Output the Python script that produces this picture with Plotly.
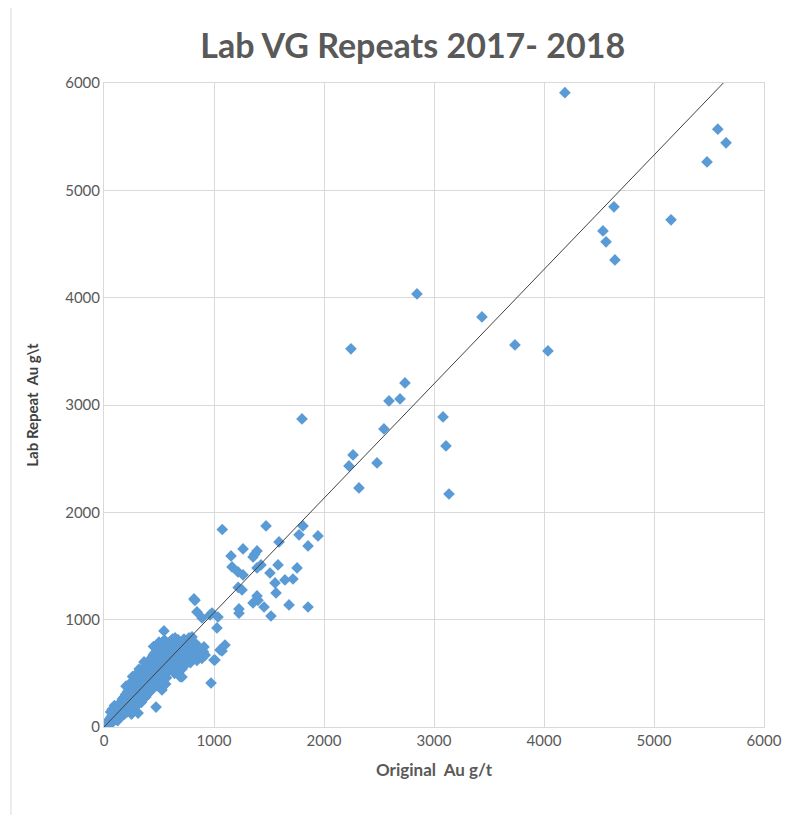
import plotly.graph_objects as go

# dense low-grade cluster (Original Au g/t, Lab Repeat Au g/t)
low_x = [3, 8, 12, 18, 20, 25, 28, 33, 37, 41, 46, 50, 55, 58, 63, 66, 70, 74, 78, 83, 86, 90, 95, 98, 103,
         107, 112, 115, 120, 124, 128, 132, 137, 141, 146, 150, 60, 75, 95, 110, 130, 150]
low_y = [2, 15, 4, 30, 12, 45, 20, 8, 55, 35, 22, 70, 48, 30, 90, 60, 40, 110, 75, 52, 130, 95, 68, 150, 115,
         82, 175, 135, 100, 60, 195, 155, 118, 210, 170, 130, 140, 165, 200, 90, 75, 95]

mid_low_x = [155, 158, 163, 167, 171, 175, 180, 184, 188, 193, 197, 202, 206, 210, 215, 219, 224, 228, 233,
             237, 242, 246, 251, 255, 260, 264, 269, 273, 278, 282, 287, 291, 296, 300, 305, 309, 314, 318,
             323, 327, 332, 336, 341, 345, 350, 200, 230, 260, 290, 310, 340, 280, 250, 320]
mid_low_y = [235, 185, 145, 260, 205, 160, 115, 280, 225, 175, 305, 245, 195, 140, 330, 265, 210, 355, 285,
             230, 175, 380, 305, 250, 400, 325, 270, 200, 420, 345, 290, 440, 365, 310, 240, 460, 385, 330,
             480, 405, 350, 275, 500, 425, 370, 380, 400, 470, 190, 130, 230, 480, 120, 540]

mid_x = [355, 358, 362, 367, 371, 375, 379, 384, 388, 393, 397, 402, 406, 411, 415, 420, 424, 429, 433, 438,
         442, 447, 451, 456, 460, 465, 469, 474, 478, 483, 487, 492, 496, 501, 505, 510, 514, 519, 523, 528,
         532, 537, 541, 546, 550, 555, 559, 564, 568, 573, 577, 582, 586, 591, 595, 600, 380, 420, 470, 520,
         560, 450, 500, 540]
mid_y = [520, 445, 390, 310, 545, 465, 410, 570, 490, 430, 350, 595, 510, 450, 620, 535, 470, 380, 645, 555,
         490, 670, 580, 515, 420, 695, 600, 540, 720, 625, 560, 455, 745, 650, 585, 490, 770, 670, 605, 530,
         790, 695, 630, 560, 810, 720, 650, 580, 460, 745, 675, 600, 520, 770, 700, 625, 280, 330, 380, 420,
         400, 750, 790, 760]

upper_x = [605, 610, 614, 619, 623, 628, 632, 637, 641, 646, 650, 655, 659, 664, 668, 673, 677, 682, 686,
           691, 695, 700, 705, 709, 714, 718, 723, 727, 732, 736, 741, 745, 750, 755, 759, 764, 768, 773,
           777, 782, 786, 791, 800, 810, 820, 830, 845, 860, 870, 890, 905, 920]
upper_y = [800, 720, 650, 560, 820, 745, 670, 590, 500, 830, 765, 690, 610, 520, 800, 810, 720, 640, 560,
           470, 780, 700, 620, 540, 760, 680, 600, 820, 740, 660, 580, 800, 720, 640, 780, 700, 620, 830,
           760, 680, 600, 810, 735, 660, 790, 700, 620, 750, 680, 640, 700, 670]

# scattered points between ~350 and 1100
spread_x = [545, 364, 473, 709, 527, 818, 827, 845, 891, 964, 1036, 1027, 1100, 1073, 909, 891, 1000, 973,
            800, 673, 1055, 1009]
spread_y = [895, 606, 186, 466, 345, 1193, 1180, 1072, 1016, 1044, 1025, 923, 764, 708, 746, 690, 624, 410,
            839, 811, 718, 624]

# 1000-2000 group
group_x = [1075, 1473, 1809, 1773, 1945, 1855, 1591, 1264, 1391, 1155, 1355, 1370, 1427, 1164, 1218, 1264,
           1391, 1582, 1509, 1755, 1555, 1645, 1718, 1564, 1255, 1220, 1391, 1355, 1400, 1455, 1682, 1855,
           1518, 1227, 1227, 982]
group_y = [1840, 1873, 1873, 1790, 1780, 1687, 1724, 1659, 1640, 1594, 1584, 1610, 1510, 1491, 1445, 1417,
           1482, 1510, 1435, 1482, 1342, 1370, 1379, 1249, 1277, 1300, 1221, 1156, 1180, 1118, 1137, 1118,
           1034, 1100, 1060, 1062]

# high-grade samples
high_x = [4190, 5580, 5655, 5482, 5155, 4636, 4536, 4564, 4645, 2845, 3436, 3736, 4036, 2245, 2736, 2691,
          2591, 3082, 1800, 2545, 3109, 2264, 2227, 2482, 2318, 3136]
high_y = [5910, 5570, 5443, 5265, 4725, 4846, 4622, 4520, 4352, 4035, 3821, 3560, 3504, 3523, 3206, 3057,
          3038, 2889, 2870, 2777, 2619, 2535, 2432, 2460, 2227, 2171]

# reference line as drawn in the chart
line_x = [0, 5630]
line_y = [0, 6000]

orig_au = low_x + mid_low_x + mid_x + upper_x + spread_x + group_x + high_x
repeat_au = low_y + mid_low_y + mid_y + upper_y + spread_y + group_y + high_y

grey = "#595959"

fig = go.Figure()
fig.add_trace(go.Scatter(
    x=orig_au, y=repeat_au, mode="markers",
    marker=dict(symbol="diamond", size=9, color="#5B9BD5", line=dict(width=0)),
    showlegend=False,
))
fig.add_trace(go.Scatter(
    x=line_x, y=line_y, mode="lines",
    line=dict(color="#404040", width=1),
    showlegend=False,
))

# page body has an 8px margin, so the figure sits at (8, 8)
fig.update_layout(
    width=803, height=815,
    paper_bgcolor="white", plot_bgcolor="white",
    margin=dict(l=96, r=47, t=75, b=96),
    font=dict(family="Lato, Open Sans, sans-serif", color=grey, size=15),
    title=dict(text="<b>Lab VG Repeats 2017- 2018</b>", x=0.504, xanchor="center", xref="container",
               y=0.953, yanchor="middle",
               font=dict(size=34, color=grey, family="Lato, sans-serif")),
    shapes=[
        dict(type="line", xref="paper", yref="paper", x0=-0.141, x1=-0.141, y0=-0.16, y1=1.118,
             line=dict(color="#D9D9D9", width=1)),
        dict(type="line", xref="paper", yref="paper", x0=-0.141, x1=1.08, y0=1.118, y1=1.118,
             line=dict(color="#D9D9D9", width=1)),
    ],
)
fig.update_xaxes(
    range=[0, 6000], tickvals=[0, 1000, 2000, 3000, 4000, 5000, 6000],
    showgrid=True, gridcolor="#D9D9D9", gridwidth=1, zeroline=False,
    showline=True, linecolor="#D9D9D9", mirror=True, ticks="",
    tickfont=dict(size=15, color=grey),
    title=dict(text="<b>Original  Au g/t</b>", font=dict(size=17, color=grey), standoff=16),
)
fig.update_yaxes(
    range=[0, 6000], tickvals=[0, 1000, 2000, 3000, 4000, 5000, 6000],
    showgrid=True, gridcolor="#D9D9D9", gridwidth=1, zeroline=False,
    showline=True, linecolor="#D9D9D9", mirror=True, ticks="",
    tickfont=dict(size=15, color=grey),
    title=dict(text="<b>Lab Repeat  Au g\\t</b>", font=dict(size=15, color="#404040"), standoff=22),
)

fig.write_html("out.html")
